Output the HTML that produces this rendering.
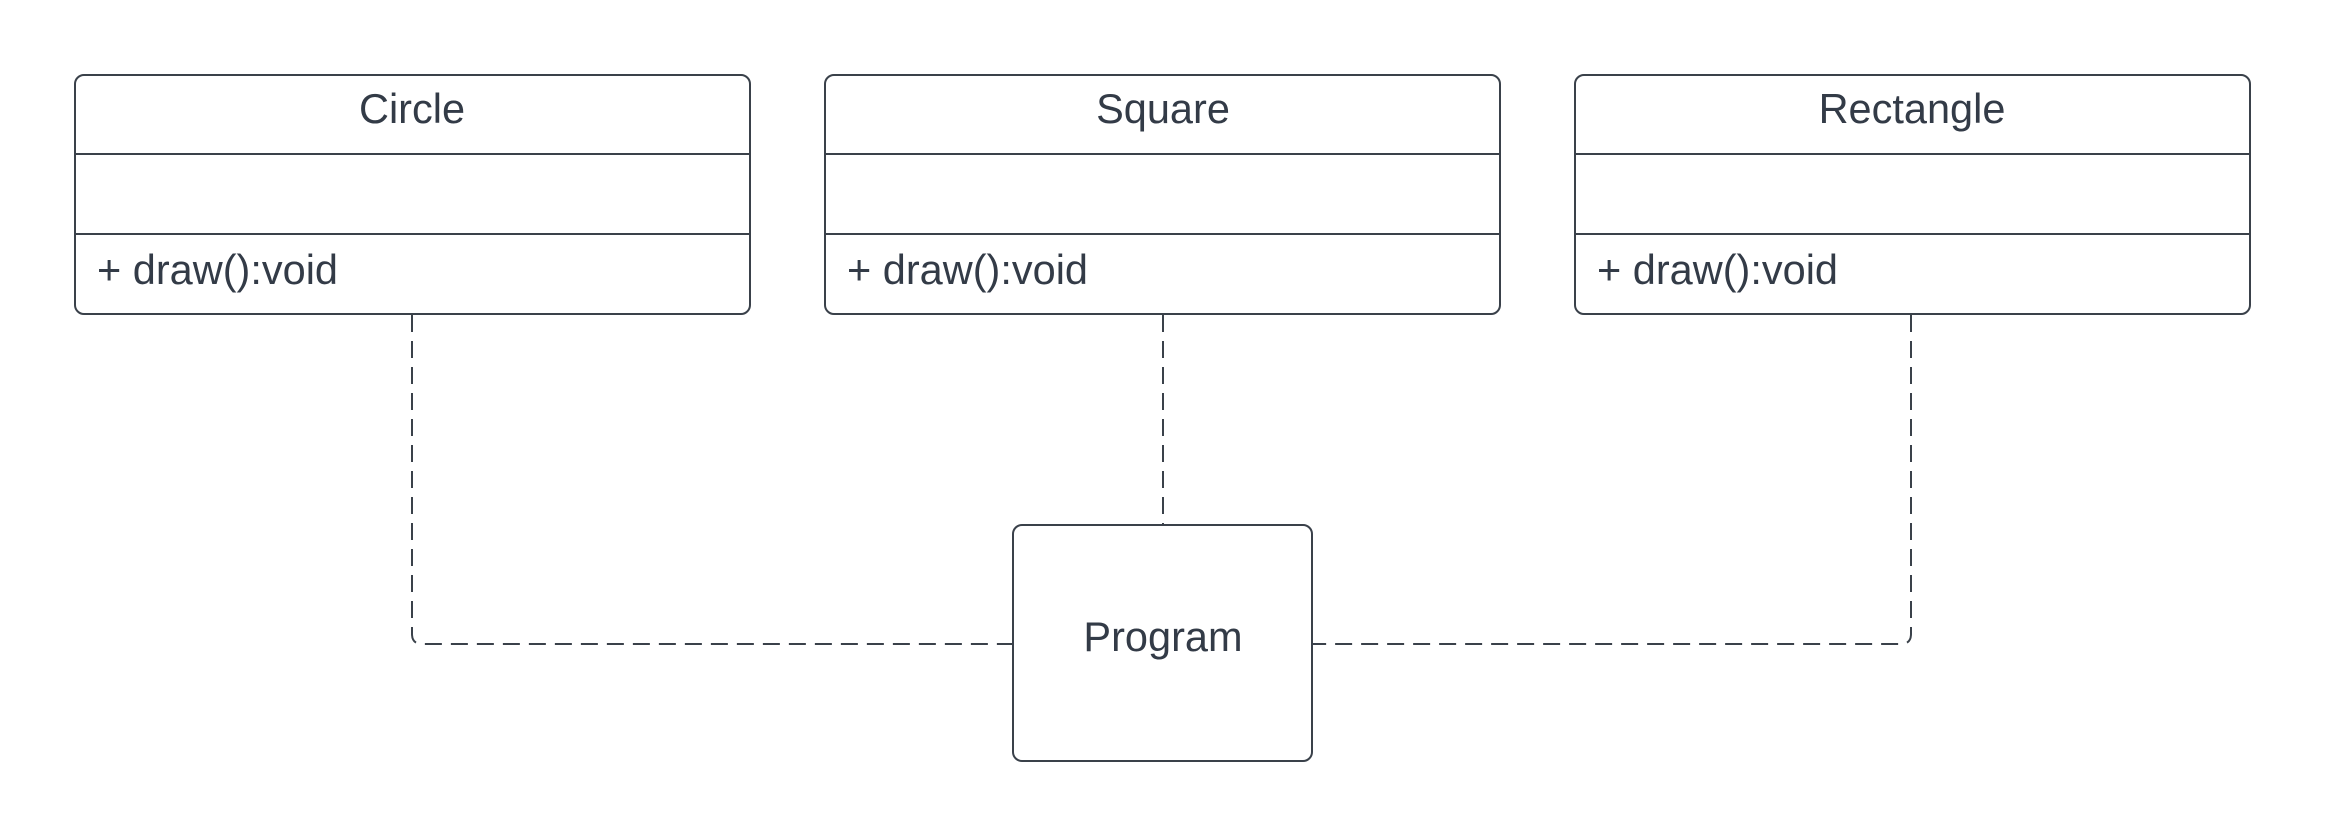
<!DOCTYPE html>
<html><head><style>html,body{margin:0;padding:0;background:#fff;}svg{display:block}</style></head>
<body>
<svg width="2325" height="836" viewBox="0 0 2325 836" xmlns="http://www.w3.org/2000/svg">
<g fill="none" stroke="#3a414a" stroke-width="2">
  <rect x="75" y="75" width="675" height="239" rx="9"/>
  <line x1="75" y1="154" x2="750" y2="154"/>
  <line x1="75" y1="234" x2="750" y2="234"/>
  <rect x="825" y="75" width="675" height="239" rx="9"/>
  <line x1="825" y1="154" x2="1500" y2="154"/>
  <line x1="825" y1="234" x2="1500" y2="234"/>
  <rect x="1575" y="75" width="675" height="239" rx="9"/>
  <line x1="1575" y1="154" x2="2250" y2="154"/>
  <line x1="1575" y1="234" x2="2250" y2="234"/>
  <rect x="1013" y="525" width="299" height="236" rx="9"/>
  <g stroke-dasharray="17 9">
    <path d="M412 315 V634 Q412 644 422 644 H1013"/>
    <path d="M1163 315 V525"/>
    <path d="M1911 315 V634 Q1911 644 1901 644 H1313"/>
  </g>
</g>
<g fill="#333b47" font-family="Liberation Sans, sans-serif" font-size="41.5">
  <text x="412" y="123" text-anchor="middle">Circle</text>
  <text x="1163" y="123" text-anchor="middle">Square</text>
  <text x="1912" y="123" text-anchor="middle">Rectangle</text>
  <text x="97" y="284">+ draw():void</text>
  <text x="847" y="284">+ draw():void</text>
  <text x="1597" y="284">+ draw():void</text>
  <text x="1163" y="651" text-anchor="middle">Program</text>
</g>
</svg>
</body></html>
